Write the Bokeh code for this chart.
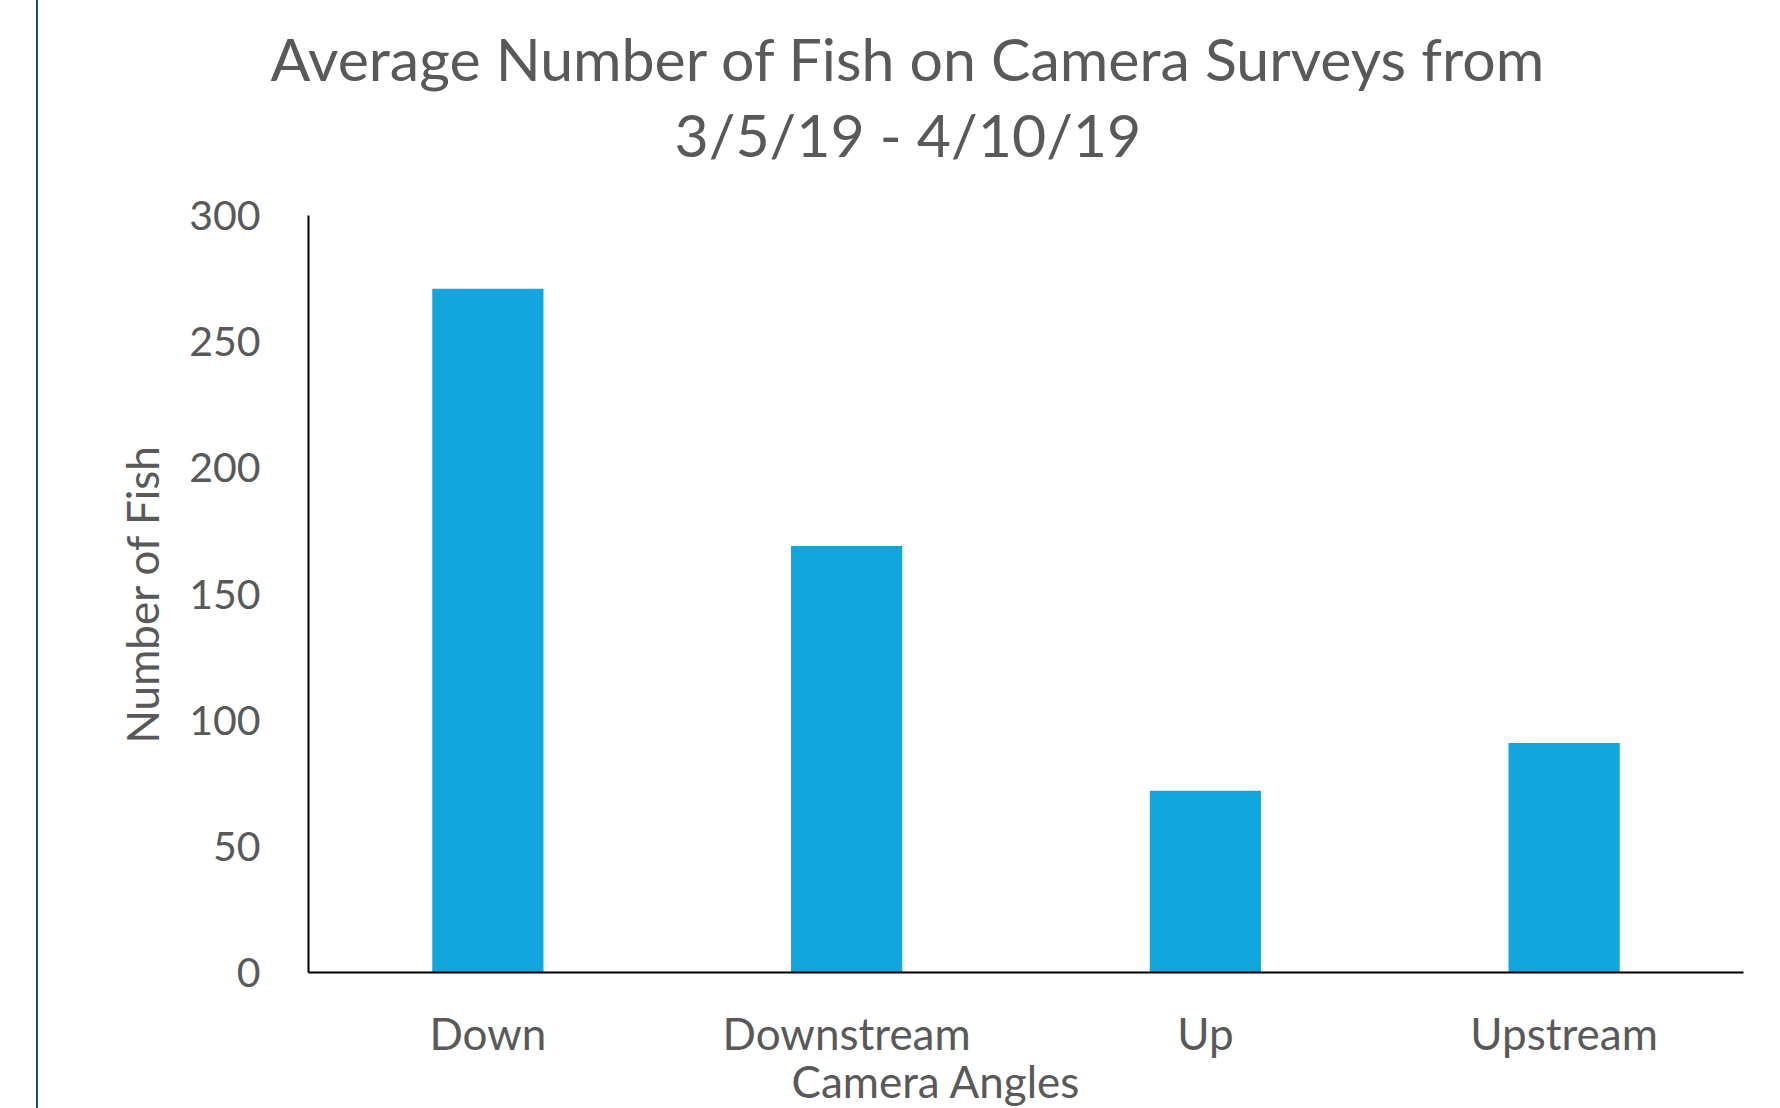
from bokeh.plotting import figure
from bokeh.models import Range1d, FactorRange, Title
from bokeh.embed import file_html
from bokeh.resources import INLINE

categories = ["Down", "Downstream", "Up", "Upstream"]
avg_fish = [271, 169, 72, 91]
y_ticks = [0, 50, 100, 150, 200, 250, 300]
title_lines = ["Average Number of Fish on Camera Surveys from", "3/5/19 - 4/10/19"]
x_title = "Camera Angles"
y_title = "Number of Fish"

FONT = "Lato"
GREY = "#595959"
BAR = "#13A6DD"

p = figure(width=1780, height=1108, x_range=FactorRange(*categories, range_padding=0),
           y_range=Range1d(0, 300), output_backend="svg", toolbar_location=None,
           min_border_left=308, min_border_right=37, min_border_top=215, min_border_bottom=136)
p.outline_line_color = None
p.grid.visible = False
p.border_fill_color = None
p.background_fill_color = "white"
# thin dark-blue rule near the left edge of the page
p.styles = {"background": "linear-gradient(90deg, #ffffff 0px, #ffffff 36px, #1F4E79 36px, "
                          "#1F4E79 38px, #ffffff 38px, #ffffff 100%)"}

p.vbar(x=categories, top=avg_fish, width=0.31, fill_color=BAR, line_color=None)

p.yaxis.ticker = y_ticks
p.yaxis.major_tick_line_color = None
p.yaxis.minor_tick_line_color = None
p.yaxis.axis_line_color = "black"
p.yaxis.axis_line_width = 2
p.yaxis.major_label_text_font = FONT
p.yaxis.major_label_text_font_size = "41px"
p.yaxis.major_label_text_color = GREY
p.yaxis.major_label_standoff = 42
p.yaxis.axis_label = y_title
p.yaxis.axis_label_text_font = FONT
p.yaxis.axis_label_text_font_size = "44px"
p.yaxis.axis_label_text_font_style = "normal"
p.yaxis.axis_label_text_color = GREY
p.yaxis.axis_label_standoff = 18

p.xaxis.major_tick_line_color = None
p.xaxis.minor_tick_line_color = None
p.xaxis.axis_line_color = "black"
p.xaxis.axis_line_width = 2
p.xaxis.major_label_text_font = FONT
p.xaxis.major_label_text_font_size = "44px"
p.xaxis.major_label_text_color = GREY
p.xaxis.major_label_standoff = 28

# titles (left of the frame centre, as in the original)
t2 = Title(text=title_lines[1], align="left", offset=366, text_font=FONT,
           text_font_size="59px", text_font_style="normal", text_color=GREY, standoff=92)
t1 = Title(text=title_lines[0], align="left", offset=-38, text_font=FONT,
           text_font_size="59px", text_font_style="normal", text_color=GREY, standoff=-87)
p.add_layout(t2, "above")
p.add_layout(t1, "above")

xt = Title(text=x_title, align="left", offset=483, text_font=FONT,
           text_font_size="44px", text_font_style="normal", text_color=GREY, standoff=-18)
p.add_layout(xt, "below")

open("out.html", "w").write(file_html(p, INLINE))
